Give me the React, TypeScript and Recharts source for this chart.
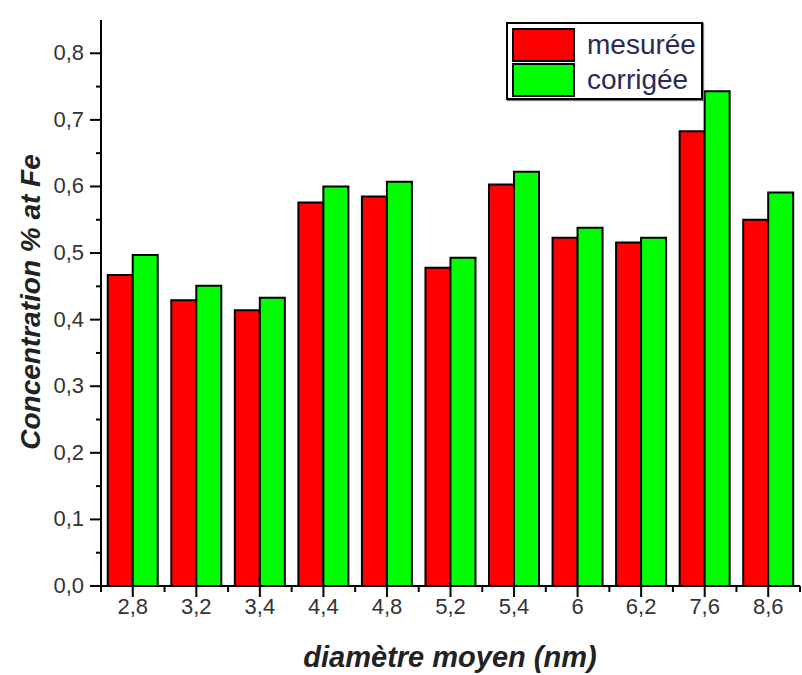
import React from 'react';
import { BarChart, Bar, XAxis, YAxis, Legend } from 'recharts';

const categories = ['2,8', '3,2', '3,4', '4,4', '4,8', '5,2', '5,4', '6', '6,2', '7,6', '8,6'];
const mesuree = [0.467, 0.429, 0.414, 0.576, 0.585, 0.478, 0.603, 0.523, 0.516, 0.683, 0.55];
const corrigee = [0.497, 0.451, 0.433, 0.6, 0.607, 0.493, 0.622, 0.538, 0.523, 0.743, 0.591];
const yTicks = [0, 0.05, 0.1, 0.15, 0.2, 0.25, 0.3, 0.35, 0.4, 0.45, 0.5, 0.55, 0.6, 0.65, 0.7, 0.75, 0.8];
const seriesNames = ['mesurée', 'corrigée'];
const seriesColors = ['#ff0000', '#00ff00'];

const data = categories.map((d, i) => ({ d, mesuree: mesuree[i], corrigee: corrigee[i] }));

const FONT = '"Liberation Sans", Arial, sans-serif';
const TEXT = '#333333';

const isMajor = (v: number) => Math.round(v * 100) % 10 === 0;
const fmt = (v: number) => v.toFixed(1).replace('.', ',');

const YTick = (props: any) => {
  const { x, y, payload } = props;
  const v = payload.value as number;
  const major = isMajor(v);
  return (
    <g>
      <line x1={x - (major ? 11 : 5)} x2={x} y1={y} y2={y} stroke="#000" strokeWidth={2} />
      {major && (
        <text x={x - 17} y={y} dy={7} textAnchor="end" fontSize={22} fontFamily={FONT} fill={TEXT}>
          {fmt(v)}
        </text>
      )}
    </g>
  );
};

const XTick = (props: any) => {
  const { x, y, payload, index, visibleTicksCount } = props;
  const half = payload && payload.offset ? payload.offset : 699 / 11 / 2;
  const last = index === (visibleTicksCount ?? categories.length) - 1;
  return (
    <g>
      <line x1={x} x2={x} y1={y} y2={y + 11} stroke="#000" strokeWidth={2} />
      <line x1={x - half} x2={x - half} y1={y} y2={y + 6} stroke="#000" strokeWidth={2} />
      {last && <line x1={x + half} x2={x + half} y1={y} y2={y + 6} stroke="#000" strokeWidth={2} />}
      <text x={x} y={y + 28} textAnchor="middle" fontSize={22} fontFamily={FONT} fill={TEXT}>
        {payload.value}
      </text>
    </g>
  );
};

const TopTick = (props: any) => {
  const { x, y, payload, index, visibleTicksCount } = props;
  const half = payload && payload.offset ? payload.offset : 699 / 11 / 2;
  const last = index === (visibleTicksCount ?? categories.length) - 1;
  return (
    <g>
      <line x1={x} x2={x} y1={y} y2={y - 9} stroke="#000" strokeWidth={2} />
      <line x1={x - half} x2={x - half} y1={y} y2={y - 5} stroke="#000" strokeWidth={2} />
      {last && <line x1={x + half} x2={x + half} y1={y} y2={y - 5} stroke="#000" strokeWidth={2} />}
    </g>
  );
};

const YLabel = () => (
  <text
    x={0}
    y={0}
    transform="translate(40,302) rotate(-90)"
    textAnchor="middle"
    fontSize={28}
    fontStyle="italic"
    fontWeight="bold"
    fontFamily={FONT}
    fill="#222"
  >
    Concentration % at Fe
  </text>
);

const XLabel = () => (
  <text
    x={450}
    y={667}
    textAnchor="middle"
    fontSize={29}
    fontStyle="italic"
    fontWeight="bold"
    fontFamily={FONT}
    fill="#222"
  >
    diamètre moyen (nm)
  </text>
);

const LegendBox = () => (
  <div
    style={{
      width: 193,
      height: 74,
      border: '2px solid #000',
      background: '#fff',
      boxShadow: '1px 1px 1px #777',
      boxSizing: 'content-box',
      position: 'relative',
    }}
  >
    {seriesNames.map((n, i) => (
      <div key={n} style={{ position: 'absolute', left: 4, top: 4 + i * 35, display: 'flex', alignItems: 'center' }}>
        <div
          style={{
            width: 59,
            height: 30,
            background: seriesColors[i],
            border: '2px solid #000',
          }}
        />
        <span
          style={{
            marginLeft: 12,
            fontSize: 28,
            fontFamily: FONT,
            color: '#2a2a55',
            lineHeight: '34px',
          }}
        >
          {n}
        </span>
      </div>
    ))}
  </div>
);

export default function App() {
  return (
    <div style={{ position: 'absolute', left: 0, top: 0, width: 802, height: 675, background: '#fff' }}>
      <BarChart
        width={802}
        height={675}
        data={data}
        margin={{ top: 20, right: 2, bottom: 0, left: 0 }}
        barCategoryGap="10.6%"
        barGap={0}
      >
        <XAxis
          dataKey="d"
          height={89}
          axisLine={{ stroke: '#000', strokeWidth: 2 }}
          tickLine={false}
          tickSize={0}
          tickMargin={0}
          tick={<XTick />}
          interval={0}
          label={<XLabel />}
        />
        <XAxis
          xAxisId="top"
          dataKey="d"
          orientation="top"
          height={0}
          axisLine={{ stroke: '#000', strokeWidth: 2 }}
          tickLine={false}
          tickSize={0}
          tickMargin={0}
          tick={<TopTick />}
          interval={0}
        />
        <YAxis
          width={101}
          domain={[0, 0.85]}
          ticks={yTicks}
          interval={0}
          axisLine={{ stroke: '#000', strokeWidth: 2 }}
          tickLine={false}
          tickSize={0}
          tickMargin={0}
          tick={<YTick />}
          label={<YLabel />}
        />
        <YAxis
          yAxisId="right"
          orientation="right"
          width={0}
          domain={[0, 0.85]}
          axisLine={{ stroke: '#000', strokeWidth: 2 }}
          tick={false}
          tickLine={false}
        />
        <Legend
          layout="horizontal"
          verticalAlign="middle"
          align="center"
          content={<LegendBox />}
          wrapperStyle={{ position: 'absolute', left: 506, top: 22, width: 197, height: 78 }}
        />
        <Bar dataKey="mesuree" name={seriesNames[0]} fill={seriesColors[0]} stroke="#000" strokeWidth={2} isAnimationActive={false} />
        <Bar dataKey="corrigee" name={seriesNames[1]} fill={seriesColors[1]} stroke="#000" strokeWidth={2} isAnimationActive={false} />
      </BarChart>
    </div>
  );
}
